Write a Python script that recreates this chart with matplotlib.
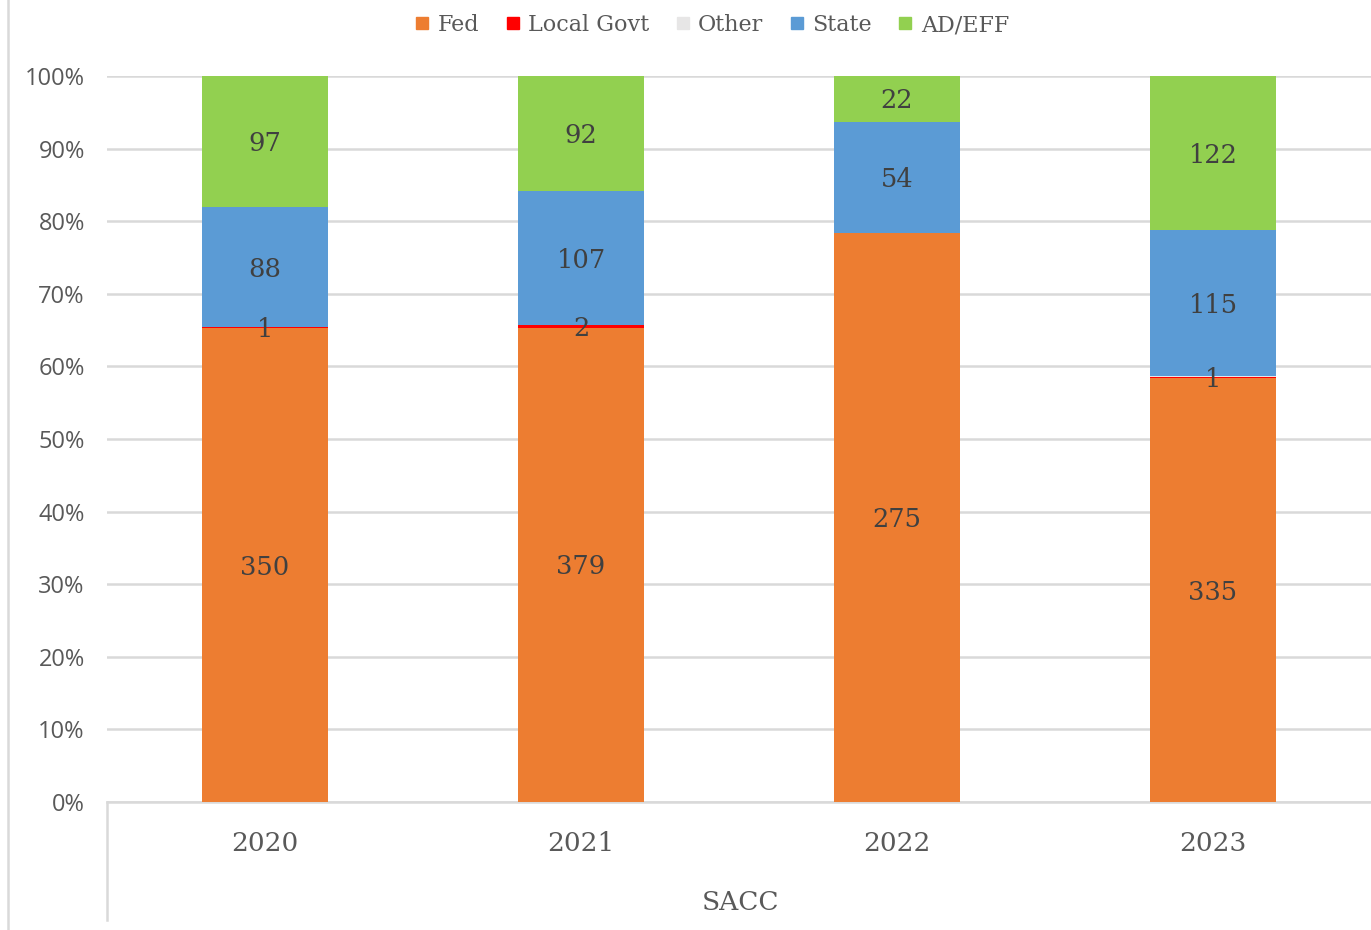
import matplotlib
matplotlib.use("Agg")
import matplotlib.pyplot as plt
from matplotlib.lines import Line2D
from matplotlib.ticker import PercentFormatter
import numpy as np

years = ["2020", "2021", "2022", "2023"]
group_label = "SACC"
series_names = ["Fed", "Local Govt", "Other", "State", "AD/EFF"]
fed = [350, 379, 275, 335]
local_govt = [1, 2, 0, 1]
other = [0, 0, 0, 1]
state = [88, 107, 54, 115]
ad_eff = [97, 92, 22, 122]
colors = ["#ED7D31", "#FF0000", "#E7E6E6", "#5B9BD5", "#92D050"]

serif = ["DejaVu Serif"]
sans = ["Open Sans", "DejaVu Sans"]
txt_color = "#595959"

fig = plt.figure(figsize=(13.71, 9.30), dpi=100)
ax = fig.add_axes([107 / 1371, 1 - 802 / 930, 1 - 107 / 1371, (802 - 76) / 930])

data = np.array([fed, local_govt, other, state, ad_eff], dtype=float)
totals = data.sum(axis=0)
x = np.arange(len(years))
bottom = np.zeros(len(years))
handles = []
for i, name in enumerate(series_names):
    frac = data[i] / totals
    ax.bar(x, frac, width=0.4, bottom=bottom, color=colors[i], zorder=3)
    for j in range(len(years)):
        if data[i][j] > 0 and not (name == "Other" and local_govt[j] > 0):
            ax.text(x[j], bottom[j] + frac[j] / 2 - 0.003, f"{int(data[i][j])}",
                    ha="center", va="center", fontsize=18.5, color="#404040",
                    family=serif, zorder=4)
    bottom += frac
    handles.append(Line2D([], [], marker="s", linestyle="none", markersize=9,
                          markerfacecolor=colors[i], markeredgecolor=colors[i],
                          label=name))

ax.set_xlim(-0.5, len(years) - 0.5)
ax.set_ylim(0, 1)
ax.set_yticks(np.arange(0, 1.01, 0.1))
ax.yaxis.set_major_formatter(PercentFormatter(1.0, decimals=0))
ax.grid(axis="y", color="#D9D9D9", linewidth=1.8, zorder=0)
for s in ["left", "right", "top"]:
    ax.spines[s].set_visible(False)
ax.spines["bottom"].set_color("#D9D9D9")
ax.spines["bottom"].set_linewidth(1.8)
ax.tick_params(axis="y", length=0, pad=16, labelsize=17, labelcolor=txt_color)
for lab in ax.get_yticklabels():
    lab.set_family(sans)
ax.set_xticks(x)
ax.set_xticklabels(years, fontsize=19, color=txt_color, family=serif)
ax.tick_params(axis="x", length=0, pad=21)

# multi-level category separator and group label
fig.add_artist(Line2D([107 / 1371, 107 / 1371], [1 - 802 / 930, 1 - 920 / 930],
                      color="#D9D9D9", linewidth=1.8))
fig.add_artist(Line2D([8 / 1371, 8 / 1371], [0, 1], color="#D9D9D9", linewidth=1.8))
fig.text(740 / 1371, 1 - 902 / 930, group_label, ha="center", va="center",
         fontsize=19, color=txt_color, family=serif)

fig.legend(handles=handles, loc="center", bbox_to_anchor=(710 / 1371, 1 - 25 / 930),
           ncol=5, frameon=False, handletextpad=0.2, columnspacing=1.0, handlelength=1.0,
           prop={"family": serif, "size": 16}, labelcolor=txt_color)

fig.savefig("out.png", dpi=100)
